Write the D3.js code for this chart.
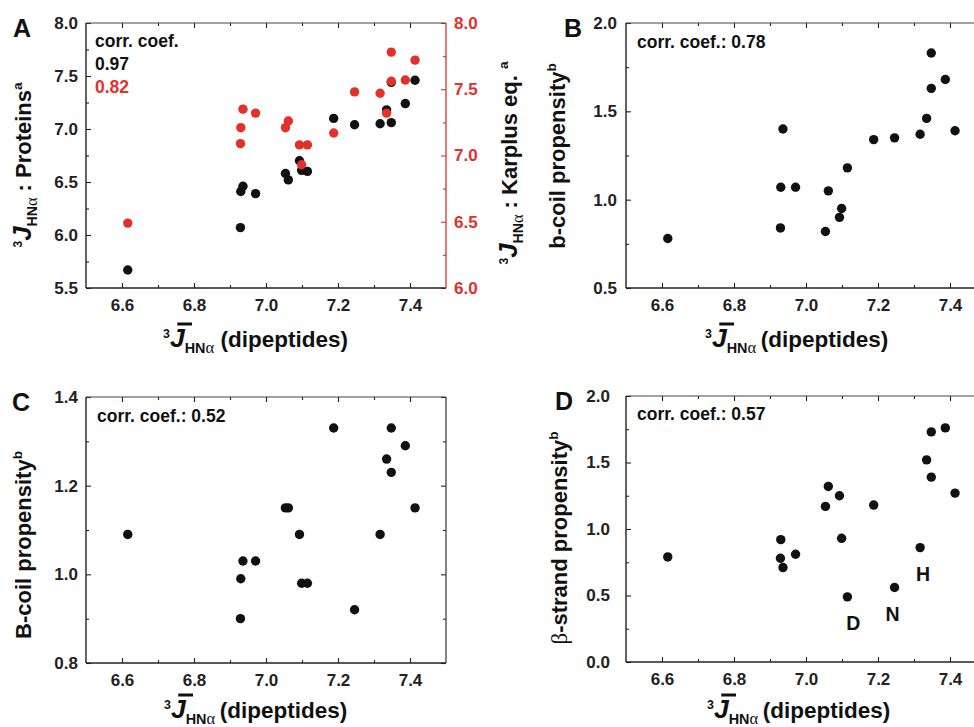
<!DOCTYPE html>
<html>
<head>
<meta charset="utf-8">
<script src="https://cdn.jsdelivr.net/npm/d3@7"></script>
<style>
  html, body { margin: 0; padding: 0; background: #fff; }
  svg { display: block; }
  text { font-family: "Liberation Sans", Arial, Helvetica, sans-serif; font-weight: bold; }
</style>
</head>
<body>
<svg id="chart" width="974" height="727"></svg>
<script>
// ---------------- DATA ----------------
const dipeptideJ = [6.616, 6.929, 6.930, 6.936, 6.971, 7.054, 7.062, 7.093, 7.099, 7.115,
                    7.188, 7.246, 7.317, 7.335, 7.348, 7.348, 7.387, 7.414];
const proteinJ   = [5.67, 6.07, 6.41, 6.46, 6.39, 6.58, 6.52, 6.70, 6.61, 6.60,
                    7.10, 7.04, 7.05, 7.18, 7.06, 7.44, 7.24, 7.46];
const karplusJ   = [6.49, 7.09, 7.21, 7.35, 7.32, 7.21, 7.26, 7.08, 6.93, 7.08,
                    7.17, 7.48, 7.47, 7.32, 7.56, 7.78, 7.57, 7.72];
const bCoilProp  = [0.78, 0.84, 1.07, 1.40, 1.07, 0.82, 1.05, 0.90, 0.95, 1.18,
                    1.34, 1.35, 1.37, 1.46, 1.63, 1.83, 1.68, 1.39];
const BCoilProp  = [1.09, 0.90, 0.99, 1.03, 1.03, 1.15, 1.15, 1.09, 0.98, 0.98,
                    1.33, 0.92, 1.09, 1.26, 1.23, 1.33, 1.29, 1.15];
const betaStrand = [0.79, 0.78, 0.92, 0.71, 0.81, 1.17, 1.32, 1.25, 0.93, 0.49,
                    1.18, 0.56, 0.86, 1.52, 1.39, 1.73, 1.76, 1.27];
const betaLabels = [{text: "D", index: 9}, {text: "N", index: 11}, {text: "H", index: 12}];

const xTicks = [6.6, 6.8, 7.0, 7.2, 7.4];
const xMinor = [6.7, 6.9, 7.1, 7.3];
const aTicksLeft  = [5.5, 6.0, 6.5, 7.0, 7.5, 8.0];
const aMinorLeft  = [5.75, 6.25, 6.75, 7.25, 7.75];
const aTicksRight = [6.0, 6.5, 7.0, 7.5, 8.0];
const aMinorRight = [6.25, 6.75, 7.25, 7.75];
const bTicks = [0.5, 1.0, 1.5, 2.0];
const bMinor = [0.75, 1.25, 1.75];
const cTicks = [0.8, 1.0, 1.2, 1.4];
const cMinor = [0.9, 1.1, 1.3];
const dTicks = [0.0, 0.5, 1.0, 1.5, 2.0];
const dMinor = [0.25, 0.75, 1.25, 1.75];
const corrA = ["corr. coef.", "0.97", "0.82"];
const corrB = "corr. coef.: 0.78";
const corrC = "corr. coef.: 0.52";
const corrD = "corr. coef.: 0.57";

// ---------------- STYLE ----------------
const RED = "#e2302a";
const INK = "#111";
const AXIS = "#222";
const R = 4.7;
const TICK_FS = 17, TITLE_FS = 22.5, YTITLE_FS = 22, CORR_FS = 17.5, LETTER_FS = 25;

const svg = d3.select("#chart");
const fmt = d3.format(".1f");

function richText(parent, segs, fs, attrs) {
  const t = parent.append("text").attr("font-size", fs);
  Object.entries(attrs || {}).forEach(([k, v]) => t.attr(k, v));
  let shift = 0;
  segs.forEach(s => {
    let target = 0, size = fs, style = "normal", weight = "bold", family = null;
    if (s.k === "sup") { target = -fs * 0.42; size = fs * 0.55; }
    if (s.k === "supl") { target = -fs * 0.42; size = fs * 0.62; }
    if (s.k === "sub") { target = fs * 0.26; size = fs * 0.64; }
    if (s.k === "suba") { target = fs * 0.26; size = fs * 0.74; weight = "normal"; family = "'Liberation Serif', 'DejaVu Serif', serif"; }
    if (s.k === "it") { style = "italic"; size = fs * 1.18; }
    if (s.k === "greek") { weight = "normal"; family = "'Liberation Serif', 'DejaVu Serif', serif"; size = fs * 1.05; }
    const ts = t.append("tspan").text(s.t)
      .attr("font-size", size).attr("font-style", style).attr("font-weight", weight)
      .attr("dy", target - shift);
    if (family) ts.attr("font-family", family);
    shift = target;
  });
  return t;
}

function panel(cfg) {
  const g = svg.append("g");
  const x = d3.scaleLinear().domain([6.5, 7.5]).range([cfg.left, cfg.right]);
  const y = d3.scaleLinear().domain(cfg.ydom).range([cfg.bottom, cfg.top]);

  // inward ticks on all four sides
  const mk = (axisFn, scale, vals, size, pos, color, labels, pad) => {
    const a = axisFn(scale).tickValues(vals).tickSizeInner(-size).tickSizeOuter(0)
      .tickPadding(pad || 8).tickFormat(labels ? fmt : "");
    const ga = g.append("g").attr("transform", pos).call(a);
    ga.select(".domain").remove();
    ga.selectAll("line").attr("stroke", color).attr("stroke-width", 1.1);
    ga.selectAll("text").attr("fill", color).attr("font-size", TICK_FS)
      .attr("font-family", "'Liberation Sans', Arial, sans-serif").attr("font-weight", "bold");
    return ga;
  };
  mk(d3.axisBottom, x, xTicks, 5, `translate(0,${cfg.bottom})`, AXIS, true, 11);
  mk(d3.axisBottom, x, xMinor, 3, `translate(0,${cfg.bottom})`, AXIS, false);
  mk(d3.axisTop, x, xTicks, 5, `translate(0,${cfg.top})`, AXIS, false);
  mk(d3.axisTop, x, xMinor, 3, `translate(0,${cfg.top})`, AXIS, false);
  mk(d3.axisLeft, y, cfg.yTicks, 5, `translate(${cfg.left},0)`, AXIS, true, cfg.lpad);
  mk(d3.axisLeft, y, cfg.yMinor, 3, `translate(${cfg.left},0)`, AXIS, false);

  let y2 = null;
  if (cfg.y2dom) {
    y2 = d3.scaleLinear().domain(cfg.y2dom).range([cfg.bottom, cfg.top]);
    mk(d3.axisRight, y2, cfg.y2Ticks, 5, `translate(${cfg.right},0)`, RED, true, 8);
    mk(d3.axisRight, y2, cfg.y2Minor, 3, `translate(${cfg.right},0)`, RED, false);
  } else {
    mk(d3.axisRight, y, cfg.yTicks, 5, `translate(${cfg.right},0)`, AXIS, false);
    mk(d3.axisRight, y, cfg.yMinor, 3, `translate(${cfg.right},0)`, AXIS, false);
  }

  // frame
  g.append("line").attr("x1", cfg.left).attr("x2", cfg.right).attr("y1", cfg.bottom).attr("y2", cfg.bottom)
    .attr("stroke", AXIS).attr("stroke-width", 1.4);
  g.append("line").attr("x1", cfg.left).attr("x2", cfg.right).attr("y1", cfg.top).attr("y2", cfg.top)
    .attr("stroke", "#444").attr("stroke-width", 1.2);
  g.append("line").attr("x1", cfg.left).attr("x2", cfg.left).attr("y1", cfg.top).attr("y2", cfg.bottom)
    .attr("stroke", AXIS).attr("stroke-width", 1.4);
  g.append("line").attr("x1", cfg.right).attr("x2", cfg.right).attr("y1", cfg.top).attr("y2", cfg.bottom)
    .attr("stroke", cfg.y2dom ? RED : "#444").attr("stroke-width", 1.3);

  // points
  g.append("g").selectAll("circle").data(cfg.values).join("circle")
    .attr("cx", (d, i) => x(dipeptideJ[i])).attr("cy", d => y(d)).attr("r", R).attr("fill", INK);
  if (cfg.values2) {
    g.append("g").selectAll("circle").data(cfg.values2).join("circle")
      .attr("cx", (d, i) => x(dipeptideJ[i])).attr("cy", d => y2(d)).attr("r", R).attr("fill", RED);
  }

  // panel letter
  g.append("text").attr("x", cfg.letterX).attr("y", cfg.top + 14).attr("font-size", LETTER_FS)
    .attr("fill", INK).text(cfg.letter);

  // x title
  const base = cfg.bottom + cfg.titleDy;
  const xt = richText(g, [
    {t: "3", k: "sup"}, {t: "J", k: "it"}, {t: "HN", k: "sub"}, {t: "\u03B1", k: "suba"},
    {t: cfg.titleGap + "(dipeptides)", k: "n"}
  ], TITLE_FS, {x: cfg.titleX, y: base, "text-anchor": "start", fill: INK});
  const ext = xt.node().getExtentOfChar(1);
  g.append("rect").attr("x", ext.x + ext.width * 0.5).attr("width", ext.width * 1.0)
    .attr("y", base - 24.5).attr("height", 3).attr("fill", INK);

  return {g, x, y, y2};
}

// ---------------- PANELS ----------------
const A = panel({left: 86, right: 446, top: 23, bottom: 288, ydom: [5.5, 8.0],
  yTicks: aTicksLeft, yMinor: aMinorLeft, y2dom: [6.0, 8.0], y2Ticks: aTicksRight, y2Minor: aMinorRight,
  values: proteinJ, values2: karplusJ, letter: "A", letterX: 13, lpad: 8, titleX: 163, titleGap: " ", titleDy: 59});
const B = panel({left: 626, right: 986, top: 23, bottom: 288, ydom: [0.5, 2.0],
  yTicks: bTicks, yMinor: bMinor, values: bCoilProp, letter: "B", letterX: 564, lpad: 9, titleX: 705, titleGap: "\u2009", titleDy: 59});
const C = panel({left: 86, right: 446, top: 397, bottom: 663, ydom: [0.8, 1.4],
  yTicks: cTicks, yMinor: cMinor, values: BCoilProp, letter: "C", letterX: 12, lpad: 8, titleX: 164, titleGap: "\u2009", titleDy: 55});
const D = panel({left: 626, right: 986, top: 396, bottom: 662, ydom: [0.0, 2.0],
  yTicks: dTicks, yMinor: dMinor, values: betaStrand, letter: "D", letterX: 555, lpad: 16, titleX: 707, titleGap: "\u2009", titleDy: 56});

// corr. coef. texts
A.g.append("text").attr("x", 95).attr("y", 47).attr("font-size", CORR_FS).attr("fill", INK).text(corrA[0]);
A.g.append("text").attr("x", 95).attr("y", 70).attr("font-size", CORR_FS).attr("fill", INK).text(corrA[1]);
A.g.append("text").attr("x", 95).attr("y", 93).attr("font-size", CORR_FS).attr("fill", RED).text(corrA[2]);
B.g.append("text").attr("x", 637).attr("y", 48).attr("font-size", CORR_FS).attr("fill", INK).text(corrB);
C.g.append("text").attr("x", 97).attr("y", 422).attr("font-size", CORR_FS).attr("fill", INK).text(corrC);
D.g.append("text").attr("x", 637).attr("y", 420).attr("font-size", CORR_FS).attr("fill", INK).text(corrD);

// residue labels in D
D.g.selectAll("text.res").data(betaLabels).join("text").attr("class", "res")
  .attr("x", d => D.x(dipeptideJ[d.index]) + (d.text === "D" ? 6 : d.text === "N" ? -2 : 3))
  .attr("y", d => D.y(betaStrand[d.index]) + 33)
  .attr("text-anchor", "middle").attr("font-size", 19.5).attr("fill", INK).text(d => d.text);

// y titles (rotated)
function yTitle(segs, cx, cy) {
  richText(svg, segs, YTITLE_FS, {transform: `translate(${cx},${cy}) rotate(-90)`, "text-anchor": "middle", fill: INK});
}
const jSegs = [{t: "3", k: "sup"}, {t: "J", k: "it"}, {t: "HN", k: "sub"}, {t: "\u03B1", k: "suba"}];
yTitle([...jSegs, {t: " : Proteins", k: "n"}, {t: "a", k: "supl"}], 31, 165);
yTitle([...jSegs, {t: " : Karplus eq. ", k: "n"}, {t: "a", k: "supl"}], 517, 163);
yTitle([{t: "b-coil propensity", k: "n"}, {t: "b", k: "supl"}], 565, 156);
yTitle([{t: "B-coil propensity", k: "n"}, {t: "b", k: "supl"}], 31, 545);
yTitle([{t: "\u03B2", k: "greek"}, {t: "-strand propensity", k: "n"}, {t: "b", k: "supl"}], 567, 538);
</script>
</body>
</html>
